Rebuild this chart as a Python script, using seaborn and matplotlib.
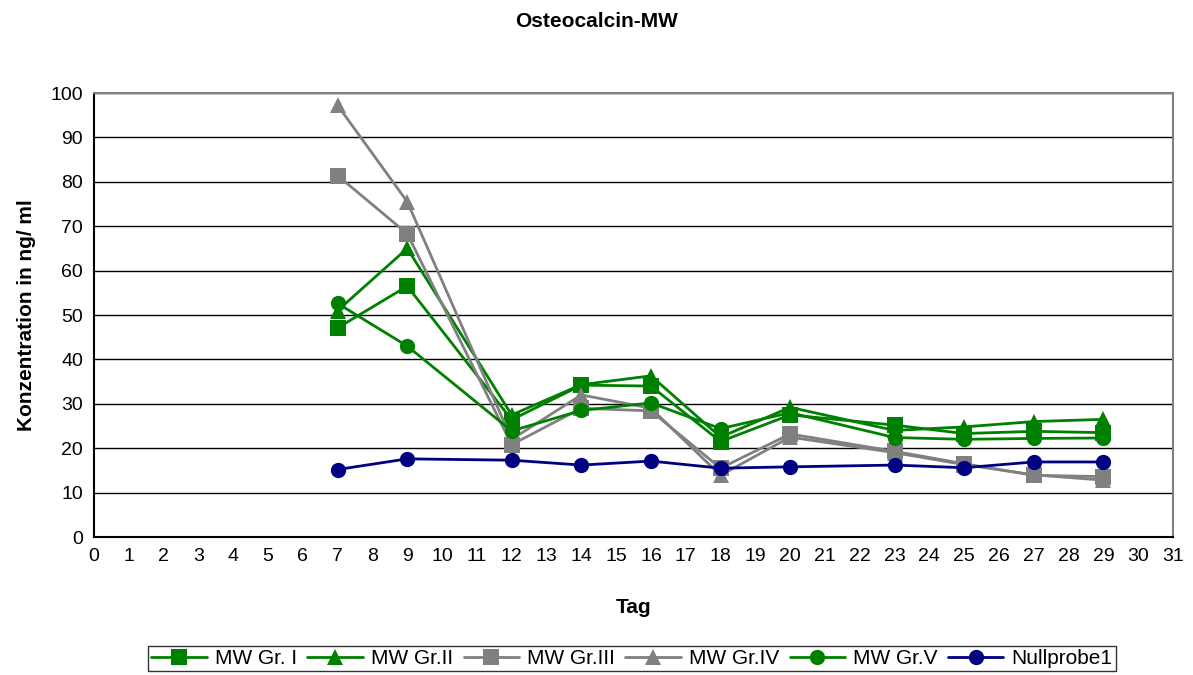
import matplotlib
matplotlib.use("Agg")
import matplotlib.pyplot as plt
import seaborn as sns
import pandas as pd

days = [7, 9, 12, 14, 16, 18, 20, 23, 25, 27, 29]
gr1 = [47.1, 56.5, 26.4, 34.2, 34.0, 21.5, 27.5, 25.2, 23.3, 23.8, 23.5]
gr2 = [51.0, 65.0, 27.5, 34.3, 36.3, 22.5, 29.2, 24.0, 24.8, 26.0, 26.5]
gr3 = [81.4, 68.3, 20.8, 29.0, 28.4, 15.5, 23.2, 19.3, 16.5, 13.9, 13.6]
gr4 = [97.2, 75.5, 22.0, 32.0, 29.0, 13.9, 22.5, 19.0, 16.3, 14.0, 12.8]
gr5 = [52.6, 43.0, 23.9, 28.5, 30.2, 24.4, 28.0, 22.4, 22.0, 22.2, 22.3]
null1 = [15.2, 17.6, 17.3, 16.2, 17.1, 15.5, 15.8, 16.2, 15.6, 16.9, 16.9]

names = ["MW Gr. I", "MW Gr.II", "MW Gr.III", "MW Gr.IV", "MW Gr.V", "Nullprobe1"]
series = [gr1, gr2, gr3, gr4, gr5, null1]
colors = ["#008000", "#008000", "#808080", "#808080", "#008000", "#000080"]
markers = ["s", "^", "s", "^", "o", "o"]

rows = []
for n, vals in zip(names, series):
    for d, v in zip(days, vals):
        rows.append({"Tag": d, "Wert": v, "Serie": n})
df = pd.DataFrame(rows)

sns.set_style("white")
plt.rcParams["font.family"] = ["Liberation Sans", "DejaVu Sans"]
plt.rcParams["text.color"] = "black"
plt.rcParams["axes.labelcolor"] = "black"

fig = plt.figure(figsize=(11.93, 6.75), dpi=100)
ax = fig.add_axes([94/1193, 1 - 537/675, (1173 - 94)/1193, (537 - 93)/675])

sns.lineplot(data=df, x="Tag", y="Wert", hue="Serie", style="Serie",
             hue_order=names, style_order=names,
             palette=dict(zip(names, colors)),
             markers=dict(zip(names, markers)), dashes=False,
             markersize=11, linewidth=2, markeredgewidth=0,
             ax=ax, legend=True)

ax.set_xlim(0, 31)
ax.set_ylim(0, 100)
ax.set_xticks(range(0, 32))
ax.set_yticks(range(0, 101, 10))
ax.tick_params(axis="both", labelsize=14, direction="out", length=5, width=1,
               colors="black", pad=3)
ax.yaxis.grid(True, color="black", linewidth=1)
ax.set_axisbelow(True)
for s in ax.spines.values():
    s.set_color("#808080")
    s.set_linewidth(1.5)
ax.spines["left"].set_color("black")
ax.spines["bottom"].set_color("black")

ax.set_xlabel("Tag", fontsize=15, fontweight="bold", labelpad=24)
ax.set_ylabel("Konzentration in ng/ ml", fontsize=15, fontweight="bold", labelpad=10)
fig.suptitle("Osteocalcin-MW", fontsize=15, fontweight="bold", y=0.982, x=0.5)

handles, labels = ax.get_legend_handles_labels()
leg = ax.legend(handles, labels, loc="upper center", bbox_to_anchor=(0.4986, -0.2455),
                ncol=6, frameon=True, fancybox=False, fontsize=15,
                handlelength=2.65, handletextpad=0.4, columnspacing=0.5,
                borderpad=0.15, borderaxespad=0, edgecolor="black")
leg.get_frame().set_linewidth(1)

fig.savefig("out.png", dpi=100)
